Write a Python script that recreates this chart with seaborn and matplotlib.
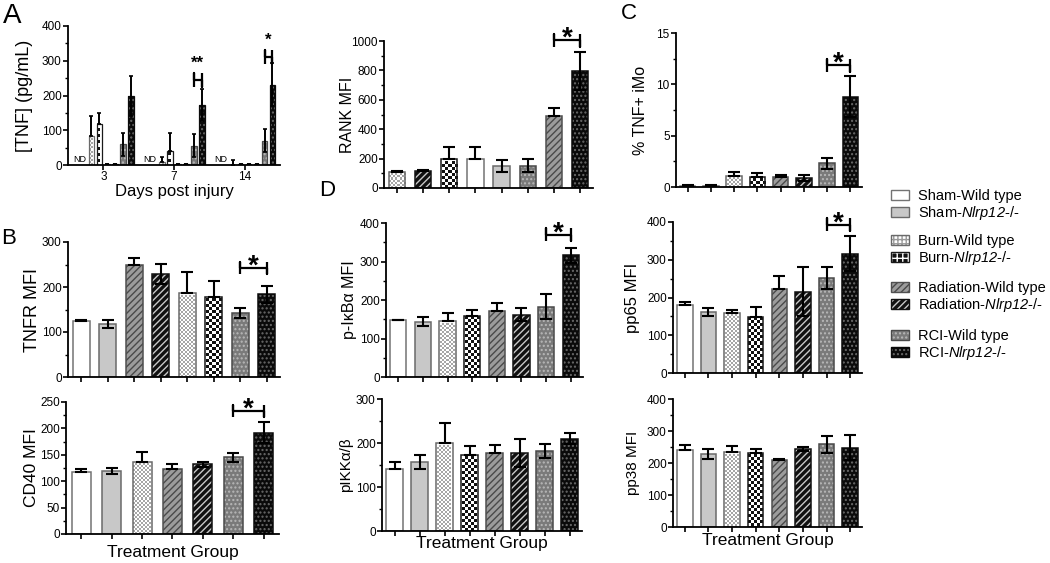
import numpy as np
import pandas as pd
import matplotlib
matplotlib.use("Agg")
import matplotlib.pyplot as plt
import seaborn as sns
from matplotlib.colors import ListedColormap
from matplotlib.patches import Patch, Rectangle
from matplotlib.legend_handler import HandlerTuple
from matplotlib.ticker import MultipleLocator, AutoMinorLocator

sns.set_style("ticks", rc={"axes.edgecolor": "black", "text.color": "black",
                           "axes.labelcolor": "black", "xtick.color": "black",
                           "ytick.color": "black"})
plt.rcParams["font.family"] = ["Liberation Sans", "DejaVu Sans"]
plt.rcParams["mathtext.fontset"] = "custom"
plt.rcParams["mathtext.rm"] = "Liberation Sans"
plt.rcParams["mathtext.it"] = "Liberation Sans:italic"
plt.rcParams["mathtext.sf"] = "Liberation Sans:italic"
plt.rcParams["hatch.linewidth"] = 1.0

# ---------------- data ----------------
keys = ["SWT", "SKO", "BWT", "BKO", "RWT", "RKO", "CWT", "CKO"]
group_labels = ["Sham-Wild type", "Sham-$\\mathsf{Nlrp12}$-/-",
                "Burn-Wild type", "Burn-$\\mathsf{Nlrp12}$-/-",
                "Radiation-Wild type", "Radiation-$\\mathsf{Nlrp12}$-/-",
                "RCI-Wild type", "RCI-$\\mathsf{Nlrp12}$-/-"]

# A: serum TNF (ND = not detected)
days = ["3", "7", "14"]
tnf_d3 = [np.nan, np.nan, 84, 117, 2, 2, 60, 198]
tnf_d3_err = [0, 0, 57, 32, 0, 0, 33, 57]
tnf_d7 = [np.nan, np.nan, 9, 39, 2, 2, 56, 173]
tnf_d7_err = [0, 0, 15, 52, 0, 0, 33, 47]
tnf_d14 = [np.nan, np.nan, 1, 2, 2, 2, 70, 231]
tnf_d14_err = [0, 0, 13, 0, 0, 0, 33, 62]

# B
tnfr_order = ["SWT", "SKO", "RWT", "RKO", "BWT", "BKO", "CWT", "CKO"]
tnfr = [124, 118, 250, 229, 186, 177, 143, 184]
tnfr_err = [3, 9, 14, 23, 48, 37, 11, 19]
cd40_order = ["SWT", "SKO", "BWT", "RWT", "RKO", "CWT", "CKO"]
cd40 = [118, 119, 136, 123, 132, 145, 192]
cd40_err = [5, 6, 19, 10, 5, 9, 20]

# D
rank_order = ["BWT", "RKO", "BKO", "SWT", "SKO", "CWT", "RWT", "CKO"]
rank = [112, 118, 196, 200, 150, 153, 488, 795]
rank_err = [3, 5, 86, 82, 40, 42, 56, 131]
ikb = [147, 144, 145, 158, 172, 162, 183, 316]
ikb_err = [2, 11, 21, 17, 20, 17, 32, 20]
ikk = [142, 156, 200, 173, 177, 177, 182, 210]
ikk_err = [14, 16, 45, 21, 19, 31, 15, 13]

# C
tnf_imo = [0.1, 0.1, 1.1, 1.0, 0.95, 0.88, 2.3, 8.8]
tnf_imo_err = [0.05, 0.05, 0.35, 0.33, 0.22, 0.3, 0.55, 2.0]
pp65 = [179, 162, 158, 148, 223, 215, 252, 316]
pp65_err = [9, 11, 10, 26, 34, 65, 30, 46]
pp38 = [240, 228, 234, 230, 208, 244, 258, 248]
pp38_err = [15, 17, 20, 15, 6, 7, 27, 38]

two_sided = {"SKO", "CWT", "CKO", "RKO"}

# ---------------- bar styles ----------------
bar_style = {
    "SWT": {"face": "white", "edge": "#737373"},
    "SKO": {"face": "#c8c8c8", "edge": "#6a6a6a"},
    "BWT": {"face": "white", "edge": "#6a6a6a", "checker": ("white", "#a6a6a6", 2),
            "legend": ("white", "++++", "#9a9a9a")},
    "BKO": {"face": "white", "edge": "#1a1a1a", "checker": ("white", "#111111", 3),
            "legend": ("#111111", "+++", "white")},
    "RWT": {"face": "#9c9c9c", "edge": "#505050", "hatch": "/////", "hc": "#4a4a4a"},
    "RKO": {"face": "#111111", "edge": "#111111", "hatch": "/////", "hc": "#c8c8c8"},
    "CWT": {"face": "#7a7a7a", "edge": "#4a4a4a", "hatch": "....", "hc": "#b8b8b8"},
    "CKO": {"face": "#0a0a0a", "edge": "#0a0a0a", "hatch": "....", "hc": "#6a6a6a"},
}

W, H = 1050, 563
fig = plt.figure(figsize=(W / 100, H / 100), dpi=100)
boxes = {}


def px_axes(left, top, right, bottom):
    ax = fig.add_axes([left / W, 1 - bottom / H, (right - left) / W, (bottom - top) / H])
    boxes[ax] = (left, top, right, bottom)
    return ax


def fill_checker(ax, p, c1, c2, cell):
    # checkerboard clipped to the bar, snapped to whole pixels
    x0, y0, w, h = p.get_x(), p.get_y(), p.get_width(), p.get_height()
    if not np.isfinite(h) or h <= 0:
        return
    a = ax.transData.transform((x0, y0))
    b = ax.transData.transform((x0 + w, y0 + h))
    left, bottom = np.ceil(a[0]), np.ceil(a[1])
    nx = int((b[0] - left) // cell)
    ny = int((b[1] - bottom) // cell)
    if nx < 1 or ny < 1:
        return
    inv = ax.transData.inverted()
    d0 = inv.transform((left, bottom))
    d1 = inv.transform((left + nx * cell, bottom + ny * cell))
    board = np.indices((ny, nx)).sum(axis=0) % 2
    ax.imshow(board, extent=(d0[0], d1[0], d0[1], d1[1]), origin="lower",
              cmap=ListedColormap([c1, c2]), vmin=0, vmax=1,
              interpolation="nearest", aspect="auto", zorder=p.get_zorder() + 0.1)


def style_bar(ax, p, key, lw=1.1):
    st = bar_style[key]
    p.set_facecolor(st["face"])
    p.set_linewidth(0)
    if "hatch" in st:
        p.set_hatch(st["hatch"])
        p.set_edgecolor(st["hc"])
    if "checker" in st:
        fill_checker(ax, p, *st["checker"])
    ax.add_patch(Rectangle(p.get_xy(), p.get_width(), p.get_height(), fill=False,
                           edgecolor=st["edge"], lw=lw, zorder=p.get_zorder() + 0.2))


def format_axis(ax, ymax, ystep, ylabel, ysize, yanchor):
    sns.despine(ax=ax)
    for s in ("left", "bottom"):
        ax.spines[s].set_linewidth(1.3)
    ax.set_ylim(0, ymax)
    ax.yaxis.set_major_locator(MultipleLocator(ystep))
    ax.yaxis.set_minor_locator(AutoMinorLocator(2))
    ax.tick_params(which="major", direction="out", length=3.5, width=1.2, labelsize=8.5, pad=1)
    ax.tick_params(axis="y", which="minor", direction="out", length=2.0, width=1.0)
    ax.set_ylabel(ylabel, fontsize=ysize)
    l, t, r, b = boxes[ax]
    ax.yaxis.set_label_coords((yanchor - l) / (r - l), 0.5)


def xlabel_at(ax, text, top_px, size=12.5):
    l, t, r, b = boxes[ax]
    ax.set_xlabel(text, fontsize=size)
    ax.xaxis.set_label_coords(0.5, -(top_px - b) / (b - t))


def bracket(ax, x1, x2, y, tick, star="*", size=20, off=1):
    ax.plot([x1, x1, x1, x1, x2, x2, x2], [y - tick, y + tick, y, y, y, y - tick, y + tick],
            color="black", lw=1.6, clip_on=False, zorder=6, solid_capstyle="butt")
    ax.annotate(star, xy=((x1 + x2) / 2, y), xytext=(0, off), textcoords="offset points",
                ha="center", va="center", fontsize=size, fontweight="bold",
                annotation_clip=False)


def bar_panel(ax, order, means, errs, ymax, ystep, ylabel, ysize, yanchor,
              width=0.66, sig=None):
    names = [group_labels[keys.index(k)] for k in order]
    sns.barplot(x=names, y=means, order=names, color="white", width=width,
                errorbar=None, ax=ax)
    xlim = ax.get_xlim()
    ax.set_xlim(xlim)
    ax.set_ylim(0, ymax)
    patches = list(ax.containers[0].patches)
    for p, k in zip(patches, order):
        style_bar(ax, p, k)
    xs = [p.get_x() + p.get_width() / 2 for p in patches]
    lo = [e if k in two_sided else 0 for e, k in zip(errs, order)]
    ax.errorbar(xs, means, yerr=[lo, errs], fmt="none", ecolor="black",
                elinewidth=1.5, capsize=4, capthick=1.5, zorder=5)
    ax.set_xlim(xlim)
    format_axis(ax, ymax, ystep, ylabel, ysize, yanchor)
    ax.tick_params(axis="x", labelbottom=False)
    ax.set_xlabel("")
    if sig is not None:
        i, j, y = sig
        bracket(ax, xs[i], xs[j], y, 0.042 * ymax)
    return xs


# ---------------- panel A ----------------
axA = px_axes(68, 26, 280, 165)
dfA = pd.DataFrame({"day": np.repeat(days, len(keys)),
                    "group": keys * len(days),
                    "tnf": tnf_d3 + tnf_d7 + tnf_d14,
                    "err": tnf_d3_err + tnf_d7_err + tnf_d14_err})
dfA["shown"] = dfA["tnf"].fillna(0)
sns.barplot(data=dfA, x="day", y="shown", hue="group", order=days, hue_order=keys,
            width=0.9, gap=0.3, errorbar=None, legend=False, ax=axA)
xlimA = axA.get_xlim()
axA.set_xlim(xlimA)
axA.set_ylim(0, 400)
centers = {}
for key, cont in zip(keys, axA.containers):
    sub = dfA[dfA["group"] == key].reset_index(drop=True)
    for j, p in enumerate(cont.patches):
        centers[(key, j)] = p.get_x() + p.get_width() / 2
        if np.isnan(sub.loc[j, "tnf"]):
            p.set_visible(False)
            continue
        style_bar(axA, p, key, lw=0.9)
        lo = sub.loc[j, "err"] if key in two_sided else 0
        axA.errorbar([centers[(key, j)]], [sub.loc[j, "tnf"]],
                     yerr=[[lo], [sub.loc[j, "err"]]], fmt="none", ecolor="black",
                     elinewidth=1.4, capsize=1.6, capthick=1.2, zorder=5)
for j in range(len(days)):
    axA.annotate("ND", xy=((centers[("SWT", j)] + centers[("SKO", j)]) / 2, 0),
                 xytext=(0, 1), textcoords="offset points", ha="center", va="bottom",
                 fontsize=6.5)
axA.set_xlim(xlimA)
format_axis(axA, 400, 100, "[TNF] (pg/mL)", 13, 33)
xlabel_at(axA, "Days post injury", 184, size=12)
bracket(axA, centers[("CWT", 1)], centers[("CKO", 1)], 245, 20, star="**", size=12, off=12)
bracket(axA, centers[("CWT", 2)], centers[("CKO", 2)], 312, 20, star="*", size=12, off=12)

# ---------------- panel B ----------------
axT = px_axes(68, 242, 280, 377)
bar_panel(axT, tnfr_order, tnfr, tnfr_err, 300, 100, "TNFR MFI", 13, 41, sig=(6, 7, 242))
axC40 = px_axes(66, 402, 279, 534)
bar_panel(axC40, cd40_order, cd40, cd40_err, 250, 50, "CD40 MFI", 12.5, 39,
          width=0.62, sig=(5, 6, 233))
xlabel_at(axC40, "Treatment Group", 545)

# ---------------- panel D ----------------
axR = px_axes(384, 41, 593, 188)
bar_panel(axR, rank_order, rank, rank_err, 1000, 200, "RANK MFI", 11.5, 355,
          width=0.62, sig=(6, 7, 1004))
axI = px_axes(386, 223, 583, 377)
bar_panel(axI, keys, ikb, ikb_err, 400, 100, "p-I\u03baB\u03b1 MFI", 11.5, 357, sig=(6, 7, 370))
axK = px_axes(382, 399, 582, 531)
bar_panel(axK, keys, ikk, ikk_err, 300, 100, "pIKK\u03b1/\u03b2", 11, 353)
xlabel_at(axK, "Treatment Group", 536)

# ---------------- panel C ----------------
axM = px_axes(676, 33, 862, 187)
bar_panel(axM, keys, tnf_imo, tnf_imo_err, 15, 5, "% TNF+ iMo", 11.5, 648, sig=(6, 7, 11.85))
ax65 = px_axes(673, 222, 862, 373)
bar_panel(ax65, keys, pp65, pp65_err, 400, 100, "pp65 MFI", 12, 640, sig=(6, 7, 393))
ax38 = px_axes(673, 399, 862, 527)
bar_panel(ax38, keys, pp38, pp38_err, 400, 100, "pp38 MFI", 11, 640)
xlabel_at(ax38, "Treatment Group", 533)

# ---------------- panel letters ----------------
for letter, x, y, s in [("A", 3, 3, 20), ("B", 1, 228, 16), ("C", 621, 3, 16), ("D", 319, 180, 16)]:
    fig.text(x / W, 1 - y / H, letter, fontsize=s, ha="left", va="top")

# ---------------- legend ----------------
def legend_handle(k):
    st = bar_style[k]
    face, hatch, hc = st.get("legend", (st["face"], st.get("hatch"), st.get("hc", st["edge"])))
    return (Patch(facecolor=face, edgecolor=hc, hatch=hatch, lw=0),
            Patch(fill=False, edgecolor=st["edge"], lw=1.0))


legend_tops = [189, 234, 281, 329]
for gi, top in enumerate(legend_tops):
    pair = keys[2 * gi:2 * gi + 2]
    fig.legend([legend_handle(k) for k in pair],
               [group_labels[keys.index(k)] for k in pair],
               loc="upper left", bbox_to_anchor=(891 / W, 1 - top / H), frameon=False,
               fontsize=10.5, handlelength=1.2, handleheight=0.7, handletextpad=0.65,
               labelspacing=0.1, borderpad=0, borderaxespad=0,
               handler_map={tuple: HandlerTuple(ndivide=1, pad=0)})

fig.savefig("out.png", dpi=100)
